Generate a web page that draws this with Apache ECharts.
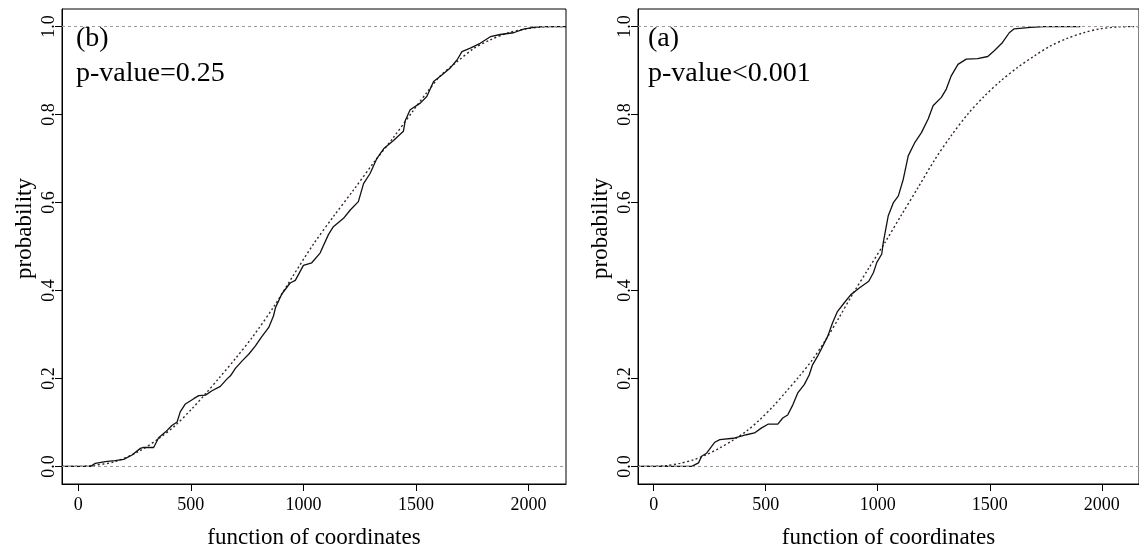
<!DOCTYPE html>
<html>
<head>
<meta charset="utf-8">
<script src="https://cdn.jsdelivr.net/npm/echarts@6/dist/echarts.min.js"></script>
<style>
  html, body { margin: 0; padding: 0; background: #fff; }
  #chart { width: 1139px; height: 554px; }
</style>
</head>
<body>
<div id="chart"></div>
<script>
// ---------------- DATA ----------------
const xTicks = [0, 500, 1000, 1500, 2000];
const xTickLabels = ['0', '500', '1000', '1500', '2000'];
const yTicks = [0, 0.2, 0.4, 0.6, 0.8, 1.0];
const yTickLabels = ['0.0', '0.2', '0.4', '0.6', '0.8', '1.0'];
const refLevels = [0, 1];

const panelLabels = ['(b)', '(a)'];
const pValueLabels = ['p-value=0.25', 'p-value<0.001'];
const xTitle = 'function of coordinates';
const yTitle = 'probability';

// Panel (b) — empirical CDF (solid)
const bEcdfX = [-72, 55, 76, 120, 164, 202, 239, 276, 290, 335, 357, 387, 416, 439, 453, 476, 513, 535, 565, 594, 631, 661, 676, 698, 728, 757, 787, 812, 846, 867, 876, 904, 941, 964, 1000, 1037, 1074, 1111, 1133, 1178, 1208, 1244, 1267, 1296, 1326, 1356, 1400, 1444, 1452, 1474, 1519, 1548, 1578, 1608, 1652, 1682, 1704, 1741, 1785, 1830, 1874, 1933, 1978, 2022, 2066, 2166];
const bEcdfY = [0, 0, 0.007, 0.011, 0.013, 0.016, 0.026, 0.041, 0.043, 0.043, 0.065, 0.078, 0.093, 0.101, 0.124, 0.142, 0.154, 0.161, 0.162, 0.172, 0.182, 0.199, 0.206, 0.223, 0.240, 0.255, 0.274, 0.293, 0.316, 0.342, 0.361, 0.392, 0.417, 0.423, 0.457, 0.463, 0.485, 0.527, 0.545, 0.564, 0.583, 0.602, 0.643, 0.666, 0.700, 0.722, 0.741, 0.762, 0.786, 0.811, 0.826, 0.841, 0.875, 0.887, 0.906, 0.924, 0.943, 0.951, 0.962, 0.977, 0.982, 0.986, 0.994, 0.998, 1.0, 1.0];
// Panel (b) — theoretical CDF (dotted)
const bFitX = [-72, 0, 60, 165, 268, 357, 431, 505, 565, 624, 698, 775, 867, 956, 1044, 1133, 1222, 1311, 1400, 1489, 1548, 1608, 1682, 1756, 1830, 1904, 1978, 2052, 2126, 2166];
const bFitY = [0, 0, 0.002, 0.011, 0.034, 0.063, 0.093, 0.131, 0.165, 0.200, 0.245, 0.295, 0.362, 0.435, 0.505, 0.568, 0.628, 0.690, 0.748, 0.810, 0.850, 0.888, 0.920, 0.950, 0.970, 0.985, 0.994, 0.999, 1.0, 1.0];

// Panel (a) — empirical CDF (solid)
const aEcdfX = [-70, 170, 200, 214, 236, 273, 295, 355, 414, 450, 480, 510, 554, 576, 598, 621, 643, 672, 694, 709, 731, 754, 776, 798, 820, 849, 879, 916, 960, 981, 996, 1018, 1025, 1047, 1070, 1092, 1114, 1136, 1166, 1195, 1225, 1247, 1284, 1306, 1328, 1358, 1395, 1446, 1491, 1520, 1557, 1587, 1609, 1683, 1742, 1904];
const aEcdfY = [0, 0, 0.008, 0.023, 0.030, 0.055, 0.061, 0.064, 0.072, 0.076, 0.087, 0.096, 0.096, 0.110, 0.117, 0.140, 0.167, 0.186, 0.208, 0.231, 0.250, 0.273, 0.295, 0.326, 0.352, 0.371, 0.390, 0.405, 0.421, 0.441, 0.464, 0.483, 0.510, 0.570, 0.600, 0.615, 0.653, 0.706, 0.737, 0.759, 0.790, 0.820, 0.839, 0.858, 0.888, 0.914, 0.926, 0.927, 0.932, 0.945, 0.964, 0.986, 0.995, 0.998, 1.0, 1.0];
// Panel (a) — theoretical CDF (dotted)
const aFitX = [-70, 0, 59, 118, 177, 236, 295, 355, 414, 473, 532, 591, 650, 709, 768, 827, 886, 959, 1033, 1106, 1180, 1254, 1328, 1402, 1476, 1550, 1624, 1698, 1771, 1845, 1919, 1993, 2067, 2140, 2166];
const aFitY = [0, 0, 0.002, 0.007, 0.015, 0.027, 0.042, 0.060, 0.080, 0.106, 0.136, 0.170, 0.205, 0.243, 0.288, 0.338, 0.390, 0.450, 0.510, 0.572, 0.634, 0.697, 0.752, 0.801, 0.842, 0.877, 0.907, 0.933, 0.956, 0.973, 0.986, 0.995, 0.999, 1.0, 1.0];

// ---------------- CHART ----------------
const FONT = 'Liberation Serif';
const zip = (xs, ys) => xs.map((x, i) => [x, ys[i]]);
const yFmt = v => { const i = yTicks.findIndex(t => Math.abs(t - v) < 1e-9); return i >= 0 ? yTickLabels[i] : ''; };
const xFmt = v => { const i = xTicks.findIndex(t => Math.abs(t - v) < 1e-9); return i >= 0 ? xTickLabels[i] : ''; };

function makeX(idx, min, max) {
  return {
    type: 'value', gridIndex: idx, min: min, max: max,
    axisLine: { show: true, onZero: false, lineStyle: { color: '#000', width: 1 } },
    axisTick: { show: true, inside: false, length: 7, customValues: xTicks, lineStyle: { color: '#000', width: 1 } },
    axisLabel: { show: true, customValues: xTicks, formatter: xFmt, color: '#000', fontFamily: FONT, fontSize: 18, margin: 12 },
    splitLine: { show: false },
    name: xTitle, nameLocation: 'middle', nameGap: 42,
    nameTextStyle: { color: '#000', fontFamily: FONT, fontSize: 23 }
  };
}
function makeY(idx) {
  return {
    type: 'value', gridIndex: idx, min: -0.04, max: 1.04,
    axisLine: { show: true, onZero: false, lineStyle: { color: '#000', width: 1 } },
    axisTick: { show: true, inside: false, length: 7, customValues: yTicks, lineStyle: { color: '#000', width: 1 } },
    axisLabel: { show: true, customValues: yTicks, formatter: yFmt, rotate: 90, color: '#000', fontFamily: FONT, fontSize: 18, margin: 4 },
    splitLine: { show: false },
    name: yTitle, nameLocation: 'middle', nameGap: 26,
    nameTextStyle: { color: '#000', fontFamily: FONT, fontSize: 23, padding: [0, 0, 0, 36] }
  };
}
const refLine = {
  silent: true, symbol: ['none', 'none'], label: { show: false },
  lineStyle: { color: '#9a9a9a', type: [3, 3], width: 1 },
  data: refLevels.map(v => ({ yAxis: v }))
};
function ecdfSeries(idx, xs, ys, withRef) {
  const s = {
    type: 'line', xAxisIndex: idx, yAxisIndex: idx, data: zip(xs, ys),
    showSymbol: false, symbol: 'none', z: 3,
    lineStyle: { color: '#111', width: 1.3 }
  };
  if (withRef) s.markLine = refLine;
  return s;
}
function fitSeries(idx, xs, ys) {
  return {
    type: 'line', xAxisIndex: idx, yAxisIndex: idx, data: zip(xs, ys),
    showSymbol: false, symbol: 'none', smooth: 0.3, z: 2,
    lineStyle: { color: '#3a2424', width: 1.4, type: [2, 2.5] }
  };
}

const chart = echarts.init(document.getElementById('chart'), null, { renderer: 'canvas' });
chart.setOption({
  animation: false,
  backgroundColor: '#fff',
  grid: [
    { left: 62, top: 9, width: 504, height: 477, show: true, borderColor: '#000', borderWidth: 1, backgroundColor: 'transparent', containLabel: false },
    { left: 638, top: 9, width: 504, height: 475, show: true, borderColor: '#000', borderWidth: 1, backgroundColor: 'transparent', containLabel: false }
  ],
  xAxis: [makeX(0, -72, 2166), makeX(1, -70, 2166)],
  yAxis: [makeY(0), makeY(1)],
  series: [
    ecdfSeries(0, bEcdfX, bEcdfY, true),
    fitSeries(0, bFitX, bFitY),
    ecdfSeries(1, aEcdfX, aEcdfY, true),
    fitSeries(1, aFitX, aFitY)
  ],
  graphic: [
    { type: 'text', left: 76, top: 25, style: { text: panelLabels[0], fill: '#000', font: '28px "Liberation Serif"' } },
    { type: 'text', left: 76, top: 60, style: { text: pValueLabels[0], fill: '#000', font: '28px "Liberation Serif"' } },
    { type: 'text', left: 648, top: 25, style: { text: panelLabels[1], fill: '#000', font: '28px "Liberation Serif"' } },
    { type: 'text', left: 648, top: 60, style: { text: pValueLabels[1], fill: '#000', font: '28px "Liberation Serif"' } }
  ]
});
</script>
</body>
</html>
